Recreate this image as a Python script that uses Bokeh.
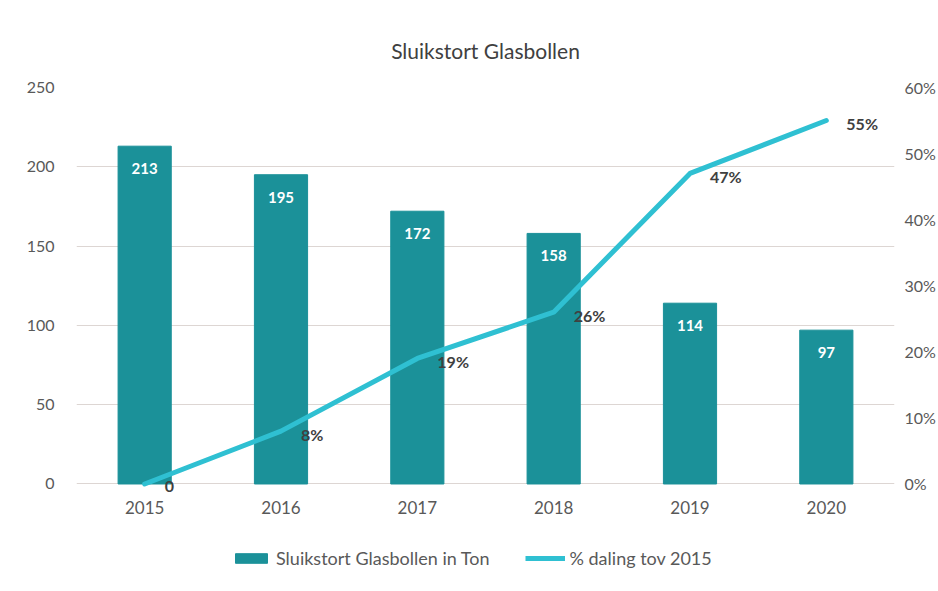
from bokeh.plotting import figure
from bokeh.layouts import column
from bokeh.models import (ColumnDataSource, Range1d, LinearAxis, FactorRange,
                          Legend, LegendItem, PrintfTickFormatter, FixedTicker)
from bokeh.core.properties import value
from bokeh.embed import file_html
from bokeh.resources import INLINE

years = ["2015", "2016", "2017", "2018", "2019", "2020"]
tons = [213, 195, 172, 158, 114, 97]
pct_drop = [0, 8, 19, 26, 47, 55]
pct_labels = ["0", "8%", "19%", "26%", "47%", "55%"]
left_ticks = [0, 50, 100, 150, 200, 250]
right_ticks = [0, 10, 20, 30, 40, 50, 60]
series_names = ["Sluikstort Glasbollen in Ton", "% daling tov 2015"]
chart_title = "Sluikstort Glasbollen"

FONT = "Lato"
BAR = "#1b9199"
LINE = "#2fc0d2"
TXT = "#595959"
GRID = "#ddd6d3"

W = 938
H_MAIN = 545
H_LEG = 46
LEFT = 76
RIGHT = 37
PAD_LO = 6  # small extra room below zero so the "0" label is not clipped

src = ColumnDataSource(dict(year=years, tons=tons, pct=pct_drop,
                            pct_lbl=pct_labels, tons_lbl=[str(t) for t in tons]))

p = figure(x_range=FactorRange(*years, range_padding=0),
           y_range=Range1d(-PAD_LO, 250),
           width=W, height=H_MAIN, output_backend="svg", toolbar_location=None,
           title=chart_title + "\n ",
           min_border_left=LEFT, min_border_right=RIGHT, min_border_top=87,
           min_border_bottom=H_MAIN - 493)
p.extra_y_ranges = {"pct": Range1d(-PAD_LO * 60 / 250, 60)}

p.title.align = "center"
p.title.offset = -8
p.title.text_font = FONT
p.title.text_font_size = "21px"
p.title.text_font_style = "normal"
p.title.text_color = "#404040"
p.title.text_line_height = 0.8

p.outline_line_color = None
p.background_fill_color = "white"
p.border_fill_color = "white"
p.xgrid.grid_line_color = None
p.ygrid.grid_line_color = GRID
p.ygrid.ticker = FixedTicker(ticks=left_ticks)

bars = p.vbar(x="year", top="tons", width=0.39, source=src, color=BAR)
p.text(x="year", y="tons", text="tons_lbl", source=src, text_color="white",
       text_font=value(FONT), text_font_size="15px", text_font_style="bold",
       text_align="center", text_baseline="top", y_offset=17)

line = p.line(x="year", y="pct", source=src, y_range_name="pct",
              line_color=LINE, line_width=5, line_join="round", line_cap="round")
p.text(x="year", y="pct", text="pct_lbl", source=src, y_range_name="pct",
       text_color="#404040", text_font=value(FONT), text_font_size="16px",
       text_font_style="bold", text_align="left", text_baseline="middle",
       x_offset=20, y_offset=3)

for ax in [p.xaxis[0], p.yaxis[0]]:
    ax.axis_line_color = None
    ax.major_tick_line_color = None
    ax.minor_tick_line_color = None
    ax.major_label_text_font = FONT
    ax.major_label_text_color = TXT
p.xaxis[0].major_label_text_font_size = "17px"
p.xaxis[0].major_label_standoff = 1
p.yaxis[0].ticker = FixedTicker(ticks=left_ticks)
p.yaxis[0].major_label_text_font_size = "16px"
p.yaxis[0].major_label_standoff = 16

rax = LinearAxis(y_range_name="pct", ticker=FixedTicker(ticks=right_ticks),
                 formatter=PrintfTickFormatter(format="%d%%"))
rax.axis_line_color = None
rax.major_tick_line_color = None
rax.minor_tick_line_color = None
rax.major_label_text_font = FONT
rax.major_label_text_font_size = "16px"
rax.major_label_text_color = TXT
rax.major_label_standoff = 4
p.add_layout(rax, "right")

# legend strip below the chart (same borders so the frames line up)
lf = figure(width=W, height=H_LEG, output_backend="svg", toolbar_location=None,
            x_range=Range1d(0, 1), y_range=Range1d(0, 1),
            min_border_left=LEFT, min_border_right=RIGHT, min_border_top=0, min_border_bottom=0)
lf.axis.visible = False
lf.grid.grid_line_color = None
lf.outline_line_color = None
lf.background_fill_color = "white"
lb = lf.vbar(x=[-5], top=[-5], bottom=[-6], width=0.1, color=BAR)
ll = lf.line(x=[-6, -5], y=[-5, -5], line_color=LINE, line_width=5)
legend = Legend(items=[LegendItem(label=series_names[0], renderers=[lb]),
                       LegendItem(label=series_names[1], renderers=[ll])],
                orientation="horizontal", location=(155, 22),
                label_text_font=FONT, label_text_font_size="18px",
                label_text_color=TXT, border_line_color=None,
                background_fill_alpha=0, spacing=35, glyph_width=40, glyph_height=12,
                label_standoff=5, margin=0, padding=3)
lf.add_layout(legend, "center")

open("out.html", "w").write(file_html(column(p, lf, spacing=0), INLINE))
